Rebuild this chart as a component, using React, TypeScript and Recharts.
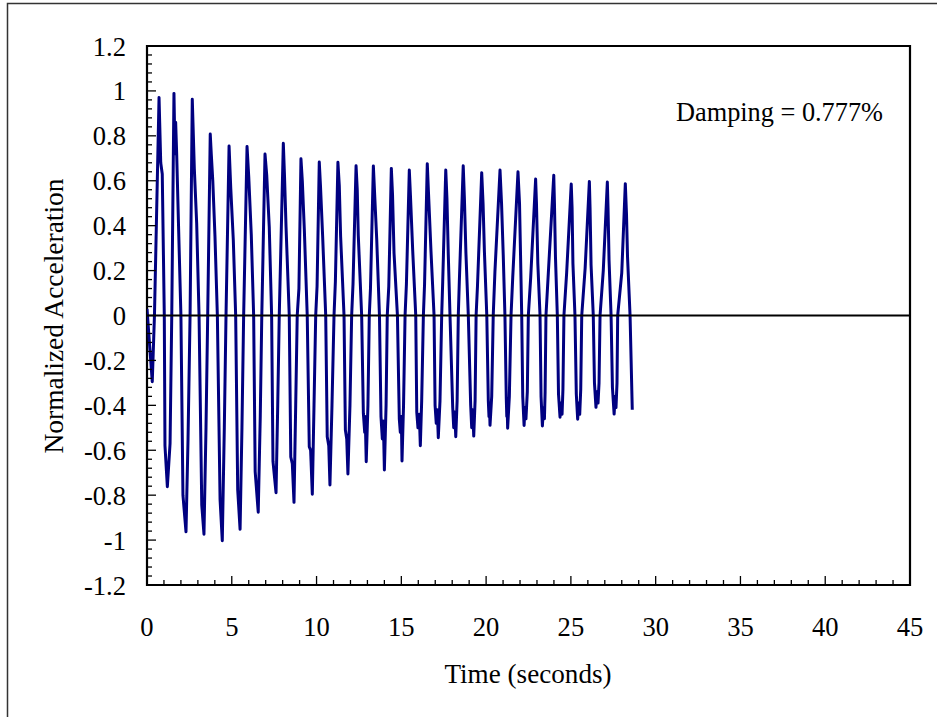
import { Line, LineChart, ReferenceArea, ReferenceLine, XAxis, YAxis } from "recharts";

const serif = "'Liberation Serif', 'Times New Roman', Times, serif";

// major tick labels
const xMajorTicks = [0, 5, 10, 15, 20, 25, 30, 35, 40, 45];
const yMajorTicks = [-1.2, -1, -0.8, -0.6, -0.4, -0.2, 0, 0.2, 0.4, 0.6, 0.8, 1, 1.2];

// minor tick marks every 1 s and every 0.04
const xTicks = Array.from({ length: 46 }, (_, i) => i);
const yTicks = Array.from({ length: 61 }, (_, i) => Math.round((-1.2 + i * 0.04) * 100) / 100);

// [time (s), normalized acceleration]
const trace: [number, number][] = [
  [0.0, 0.03], [0.31, -0.295], [0.44, 0], [0.71, 0.971], [0.81, 0.68], [0.9, 0.63],
  [1.02, 0], [1.06, -0.58], [1.2, -0.762], [1.36, -0.57], [1.46, 0], [1.59, 0.989],
  [1.65, 0.72], [1.69, 0.86], [1.75, 0.72], [1.86, 0.4], [2.0, 0], [2.12, -0.8],
  [2.3, -0.963], [2.42, -0.55], [2.54, 0], [2.67, 0.963], [2.73, 0.81], [2.79, 0.655],
  [2.93, 0.41], [3.07, 0], [3.23, -0.844], [3.36, -0.974], [3.48, -0.5], [3.58, 0],
  [3.73, 0.808], [3.79, 0.72], [3.88, 0.6], [4.01, 0.35], [4.15, 0], [4.31, -0.82],
  [4.44, -1.003], [4.56, -0.5], [4.66, 0], [4.84, 0.755], [4.94, 0.566], [5.09, 0.336],
  [5.23, 0], [5.35, -0.777], [5.49, -0.952], [5.6, -0.5], [5.7, 0], [5.9, 0.752],
  [6.0, 0.618], [6.15, 0.36], [6.29, 0], [6.38, -0.695], [6.56, -0.876], [6.68, -0.45],
  [6.77, 0], [6.96, 0.719], [7.06, 0.626], [7.21, 0.395], [7.35, 0], [7.43, -0.65],
  [7.61, -0.789], [7.71, -0.4], [7.8, 0], [8.04, 0.767], [8.11, 0.62], [8.2, 0.395],
  [8.39, 0], [8.48, -0.63], [8.57, -0.66], [8.67, -0.832], [8.77, -0.4], [8.86, 0],
  [8.96, 0.12], [9.08, 0.698], [9.16, 0.6], [9.28, 0.38], [9.45, 0], [9.57, -0.584],
  [9.65, -0.6], [9.75, -0.796], [9.85, -0.4], [9.95, 0], [10.03, 0.13], [10.16, 0.683],
  [10.23, 0.58], [10.36, 0.351], [10.54, 0], [10.63, -0.54], [10.72, -0.58], [10.79, -0.755],
  [10.91, -0.4], [11.03, 0], [11.11, 0.15], [11.26, 0.682], [11.34, 0.58], [11.42, 0.351],
  [11.62, 0], [11.7, -0.51], [11.78, -0.55], [11.85, -0.706], [11.97, -0.4], [12.07, 0],
  [12.15, 0.14], [12.33, 0.667], [12.4, 0.56], [12.46, 0.358], [12.66, 0], [12.76, -0.435],
  [12.84, -0.52], [12.87, -0.45], [12.93, -0.651], [13.03, -0.4], [13.11, 0], [13.18, 0.12],
  [13.35, 0.666], [13.42, 0.55], [13.55, 0.336], [13.71, 0], [13.8, -0.45], [13.88, -0.55],
  [13.94, -0.47], [14.0, -0.688], [14.1, -0.4], [14.17, 0], [14.26, 0.13], [14.41, 0.655],
  [14.48, 0.54], [14.57, 0.277], [14.77, 0], [14.88, -0.46], [14.94, -0.52], [15.0, -0.45],
  [15.04, -0.648], [15.13, -0.4], [15.22, 0], [15.3, 0.14], [15.47, 0.648], [15.54, 0.53],
  [15.67, 0.29], [15.85, 0], [15.91, -0.43], [15.98, -0.5], [16.06, -0.44], [16.12, -0.58],
  [16.2, -0.38], [16.3, 0], [16.37, 0.14], [16.53, 0.676], [16.6, 0.55], [16.75, 0.284],
  [16.93, 0], [16.99, -0.4], [17.06, -0.48], [17.12, -0.42], [17.18, -0.544], [17.28, -0.38],
  [17.38, 0], [17.44, 0.15], [17.62, 0.648], [17.69, 0.52], [17.77, 0.27], [17.87, 0],
  [18.03, -0.41], [18.09, -0.5], [18.15, -0.43], [18.21, -0.54], [18.29, -0.38], [18.36, 0],
  [18.42, 0.15], [18.65, 0.667], [18.72, 0.52], [18.81, 0.277], [18.95, 0], [19.09, -0.4],
  [19.15, -0.5], [19.21, -0.42], [19.27, -0.537], [19.35, -0.38], [19.41, 0], [19.49, 0.13],
  [19.74, 0.636], [19.82, 0.5], [19.9, 0.284], [20.04, 0], [20.13, -0.38], [20.17, -0.45],
  [20.2, -0.4], [20.23, -0.489], [20.33, -0.36], [20.42, 0], [20.52, 0.195], [20.82, 0.648],
  [20.91, 0.5], [21.01, 0.27], [21.11, 0], [21.19, -0.37], [21.22, -0.45], [21.24, -0.4],
  [21.27, -0.502], [21.37, -0.36], [21.47, 0], [21.57, 0.17], [21.88, 0.64], [21.97, 0.5],
  [22.03, 0.27], [22.1, 0], [22.16, -0.36], [22.24, -0.49], [22.29, -0.41], [22.35, -0.46],
  [22.43, -0.34], [22.49, 0], [22.63, 0.17], [22.92, 0.608], [22.97, 0.5], [23.05, 0.232],
  [23.18, 0], [23.24, -0.36], [23.32, -0.492], [23.38, -0.41], [23.44, -0.46], [23.48, -0.34],
  [23.53, 0], [23.67, 0.19], [23.99, 0.624], [24.03, 0.5], [24.09, 0.262], [24.2, 0],
  [24.27, -0.35], [24.36, -0.453], [24.42, -0.39], [24.48, -0.44], [24.53, -0.33], [24.59, 0],
  [24.75, 0.19], [25.02, 0.585], [25.07, 0.48], [25.12, 0.232], [25.24, 0], [25.32, -0.35],
  [25.4, -0.462], [25.46, -0.39], [25.52, -0.44], [25.58, -0.33], [25.64, 0], [25.84, 0.21],
  [26.09, 0.597], [26.13, 0.48], [26.19, 0.225], [26.32, 0], [26.39, -0.3], [26.48, -0.409],
  [26.54, -0.34], [26.6, -0.39], [26.66, -0.3], [26.72, 0], [26.91, 0.2], [27.15, 0.594],
  [27.19, 0.48], [27.25, 0.247], [27.37, 0], [27.45, -0.32], [27.55, -0.439], [27.61, -0.36],
  [27.66, -0.41], [27.72, -0.3], [27.76, 0], [28.0, 0.19], [28.21, 0.587], [28.28, 0.45],
  [28.34, 0.262], [28.49, 0], [28.62, -0.42],
];

const data = trace.map(([t, a]) => ({ t, a }));

const isMajor = (list: number[], v: number) => list.some((m) => Math.abs(m - v) < 1e-6);

function XTick({ x, y, payload }: any) {
  const v = payload.value;
  const major = isMajor(xMajorTicks, v);
  return (
    <g>
      <line x1={x} x2={x} y1={y} y2={y - (major ? 9 : 5)} stroke="#000" strokeWidth={1.3} />
      {major && (
        <text
          transform={`translate(${x},${y + 51}) scale(0.95,1)`}
          textAnchor="middle"
          fontFamily={serif}
          fontSize={28}
          fill="#000"
        >
          {v}
        </text>
      )}
    </g>
  );
}

function YTick({ x, y, payload }: any) {
  const v = payload.value;
  const major = isMajor(yMajorTicks, v);
  return (
    <g>
      <line x1={x} x2={x + (major ? 9 : 5)} y1={y} y2={y} stroke="#000" strokeWidth={1.3} />
      {major && (
        <text
          transform={`translate(${x - 21},${y + 9.5}) scale(0.95,1)`}
          textAnchor="end"
          fontFamily={serif}
          fontSize={28}
          fill="#000"
        >
          {v}
        </text>
      )}
    </g>
  );
}

export default function App() {
  return (
    <div style={{ position: "absolute", left: 0, top: 0, width: 937, height: 717, overflow: "hidden", background: "#fff" }}>
      <LineChart
        width={937}
        height={717}
        data={data}
        margin={{ top: 46, right: 27, bottom: 52, left: 87 }}
        style={{ position: "absolute", left: 0, top: 0 }}
      >
        <XAxis
          type="number"
          dataKey="t"
          domain={[0, 45]}
          allowDataOverflow
          ticks={xTicks}
          interval={0}
          tickSize={0}
          tickMargin={0}
          axisLine={false}
          tickLine={false}
          height={80}
          tick={<XTick />}
        />
        <YAxis
          type="number"
          domain={[-1.2, 1.2]}
          allowDataOverflow
          ticks={yTicks}
          interval={0}
          tickSize={0}
          tickMargin={0}
          axisLine={false}
          tickLine={false}
          width={60}
          tick={<YTick />}
        />
        <ReferenceArea x1={0} x2={45} y1={-1.2} y2={1.2} fill="none" stroke="#000" strokeWidth={2.2} />
        <Line
          type="linear"
          dataKey="a"
          stroke="#000080"
          strokeWidth={3}
          strokeLinejoin="round"
          dot={false}
          activeDot={false}
          isAnimationActive={false}
        />
        <ReferenceLine y={0} stroke="#000" strokeWidth={2.2} />
      </LineChart>
      <svg width={937} height={717} style={{ position: "absolute", left: 0, top: 0, pointerEvents: "none" }}>
        <rect x={7.5} y={3.5} width={940} height={720} fill="none" stroke="#333" strokeWidth={1.5} />
        <text transform="translate(676,120.5) scale(0.94,1)" fontFamily={serif} fontSize={28} fill="#000">
          Damping = 0.777%
        </text>
        <text transform="translate(528,683) scale(0.97,1)" textAnchor="middle" fontFamily={serif} fontSize={28} fill="#000">
          Time (seconds)
        </text>
        <text transform="translate(63,316) rotate(-90) scale(0.98,1)" textAnchor="middle" fontFamily={serif} fontSize={28} fill="#000">
          Normalized Acceleration
        </text>
      </svg>
    </div>
  );
}
